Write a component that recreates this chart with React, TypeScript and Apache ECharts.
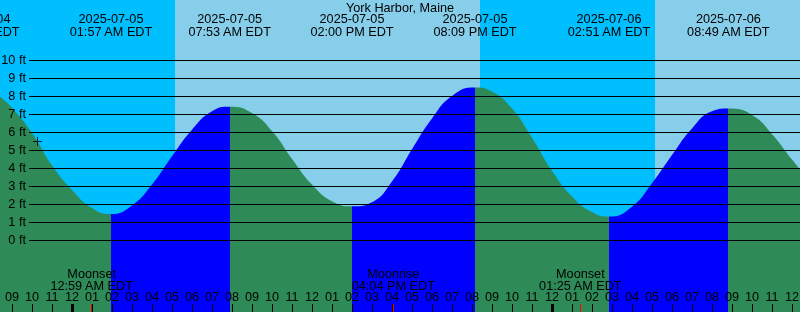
import React, { useEffect, useRef } from 'react';
import * as echarts from 'echarts';

const stationName = 'York Harbor, Maine';

// Time is in hours since 2025-07-05 00:00 EDT
const axisMinHour = -5;
const axisMaxHour = 37;

// Water level (hours, feet)
const curveHours = [
  -3.6, -3, -2, -1, 0, 1, 1.95, 3, 4, 5, 6, 7, 7.883, 9, 10, 11, 12, 13, 14, 15, 16, 17, 18, 19, 20.15,
  21, 22, 23, 24, 25, 26, 26.85, 28, 29, 30, 31, 32, 32.817, 34, 35, 36, 36.4,
];
const curveFeet = [
  7.96, 7.35, 5.95, 4.15, 2.78, 1.78, 1.44, 1.92, 3.08, 4.65, 6.13, 7.15, 7.4, 7.05, 6.05, 4.5, 3.08, 2.15, 1.87, 2.1,
  3.25, 5.04, 6.75, 8.0, 8.47, 8.25, 7.3, 5.68, 3.85, 2.42, 1.55, 1.3, 1.85, 3.15, 4.72, 6.2, 7.15, 7.3, 6.95, 5.88,
  4.47, 3.92,
];

// High / low tide events
const extremeHours = [-4.7, 1.95, 7.883, 14.0, 20.15, 26.85, 32.817];
const extremeKinds = ['high', 'low', 'high', 'low', 'high', 'low', 'high'];
const extremeDates = ['2025-07-04', '2025-07-05', '2025-07-05', '2025-07-05', '2025-07-05', '2025-07-06', '2025-07-06'];
const extremeTimes = ['07:18 PM EDT', '01:57 AM EDT', '07:53 AM EDT', '02:00 PM EDT', '08:09 PM EDT', '02:51 AM EDT', '08:49 AM EDT'];

// Sun events
const sunHours = [5.15, 20.4, 29.15];
const sunKinds = ['rise', 'set', 'rise'];

// Moon events
const moonHours = [0.983, 16.067, 25.417];
const moonNames = ['Moonset', 'Moonrise', 'Moonset'];
const moonTimes = ['12:59 AM EDT', '04:04 PM EDT', '01:25 AM EDT'];

// Midnights
const midnightHours = [0, 24];

// Level marker "+"
const markerHours = [-1.725];
const markerFeet = [5.47];

// Feet grid levels
const feetLevels = [0, 1, 2, 3, 4, 5, 6, 7, 8, 9, 10];
const feetMin = -4;
const feetMax = 13.3333;

const COLORS = {
  night: '#00BFFF',
  day: '#87CEEB',
  rising: '#0000FF',
  falling: '#2E8B57',
  text: '#000000',
  moonTick: '#FF0000',
};

const FONT = 'Liberation Sans, Arial, sans-serif';
const FS = 12.7;

function hourLabel(v: number): string {
  const h = ((Math.round(v) % 24) + 24) % 24;
  const h12 = h % 12 === 0 ? 12 : h % 12;
  return String(h12).padStart(2, '0');
}

function nearestIndex(arr: number[], v: number): number {
  let best = 0;
  for (let i = 1; i < arr.length; i++) if (Math.abs(arr[i] - v) < Math.abs(arr[best] - v)) best = i;
  return best;
}

function buildOption() {
  // Sky bands
  const bandEdges = [axisMinHour, ...sunHours, axisMaxHour];
  const bands: any[] = [];
  for (let i = 0; i < bandEdges.length - 1; i++) {
    const isDay = i === 0 ? sunKinds[0] === 'set' : sunKinds[i - 1] === 'rise';
    bands.push([
      { xAxis: bandEdges[i], itemStyle: { color: isDay ? COLORS.day : COLORS.night, opacity: 1 } },
      { xAxis: bandEdges[i + 1] },
    ]);
  }

  // Rising / falling pieces
  const pieces: any[] = [];
  pieces.push({ lte: extremeHours[0], color: extremeKinds[0] === 'high' ? COLORS.rising : COLORS.falling });
  for (let i = 0; i < extremeHours.length - 1; i++) {
    pieces.push({
      gt: extremeHours[i],
      lte: extremeHours[i + 1],
      color: extremeKinds[i] === 'low' ? COLORS.rising : COLORS.falling,
    });
  }
  pieces.push({
    gt: extremeHours[extremeHours.length - 1],
    color: extremeKinds[extremeKinds.length - 1] === 'low' ? COLORS.rising : COLORS.falling,
  });

  const baseX = {
    type: 'value',
    gridIndex: 0,
    min: axisMinHour,
    max: axisMaxHour,
    z: 10,
    axisLine: { show: false, onZero: false },
    splitLine: { show: false },
  };

  return {
    animation: false,
    textStyle: { fontFamily: FONT, color: COLORS.text },
    title: {
      text: stationName,
      left: 'center',
      top: 1,
      padding: 0,
      textStyle: { fontFamily: FONT, fontSize: FS, fontWeight: 'normal', color: COLORS.text },
    },
    grid: [
      { left: -28, right: -12, top: 0, bottom: 0, containLabel: false, outerBoundsMode: 'none' },
      { left: 29, right: 0, top: 0, bottom: 0, containLabel: false, outerBoundsMode: 'none' },
    ],
    xAxis: [
      {
        ...baseX,
        position: 'bottom',
        interval: 1,
        axisTick: { show: true, inside: true, length: 8, lineStyle: { color: '#000', width: 1 } },
        axisLabel: {
          show: true,
          inside: true,
          margin: 9,
          fontFamily: FONT,
          fontSize: FS,
          color: COLORS.text,
          formatter: (v: number) => hourLabel(v),
        },
      },
      {
        ...baseX,
        position: 'bottom',
        axisTick: { show: true, inside: true, length: 8, customValues: midnightHours, lineStyle: { color: '#000', width: 3 } },
        axisLabel: { show: false },
      },
      {
        ...baseX,
        position: 'bottom',
        axisTick: { show: true, inside: true, length: 8, customValues: moonHours, lineStyle: { color: COLORS.moonTick, width: 1 } },
        axisLabel: {
          show: true,
          inside: true,
          margin: 20.5,
          customValues: moonHours,
          fontFamily: FONT,
          fontSize: FS,
          lineHeight: 11.7,
          color: COLORS.text,
          formatter: (v: number) => {
            const i = nearestIndex(moonHours, v);
            return moonNames[i] + '\n' + moonTimes[i];
          },
        },
      },
      {
        ...baseX,
        position: 'top',
        axisTick: { show: false },
        axisLabel: {
          show: true,
          inside: true,
          margin: 13,
          customValues: extremeHours,
          fontFamily: FONT,
          fontSize: FS,
          lineHeight: 12.5,
          color: COLORS.text,
          formatter: (v: number) => {
            const i = nearestIndex(extremeHours, v);
            return extremeDates[i] + '\n' + extremeTimes[i];
          },
        },
      },
      {
        type: 'value',
        gridIndex: 1,
        min: 0,
        max: 1,
        show: false,
      },
    ],
    yAxis: [
      { type: 'value', gridIndex: 0, min: feetMin, max: feetMax, show: false },
      {
        type: 'value',
        gridIndex: 1,
        min: feetMin,
        max: feetMax,
        interval: 1,
        z: 10,
        axisLine: { show: false },
        axisTick: { show: false, customValues: feetLevels },
        axisLabel: {
          show: true,
          margin: 3,
          customValues: feetLevels,
          fontFamily: FONT,
          fontSize: FS,
          color: COLORS.text,
          formatter: (v: number) => (v >= 0 && v <= 10 ? v + ' ft' : ''),
        },
        splitLine: { show: true, lineStyle: { color: '#000', width: 1 } },
      },
    ],
    visualMap: {
      type: 'piecewise',
      show: false,
      seriesIndex: 1,
      dimension: 0,
      pieces,
    },
    series: [
      {
        type: 'line',
        xAxisIndex: 0,
        yAxisIndex: 0,
        data: [],
        silent: true,
        markArea: { silent: true, data: bands },
      },
      {
        type: 'line',
        xAxisIndex: 0,
        yAxisIndex: 0,
        z: 2,
        smooth: 0.5,
        showSymbol: false,
        silent: true,
        lineStyle: { width: 0 },
        areaStyle: { opacity: 1, origin: 'start' },
        data: curveHours.map((h, i) => [h, curveFeet[i]]),
      },
      {
        type: 'scatter',
        xAxisIndex: 0,
        yAxisIndex: 0,
        z: 12,
        silent: true,
        symbol: 'path://M0,4H9V5H0Z M4,0H5V9H4Z',
        symbolSize: 9,
        itemStyle: { color: '#000' },
        data: markerHours.map((h, i) => [h, markerFeet[i]]),
      },
    ],
  };
}

export default function App() {
  const ref = useRef<HTMLDivElement>(null);
  useEffect(() => {
    const chart = echarts.init(ref.current!, null, { renderer: 'svg' });
    chart.setOption(buildOption() as any);
    return () => chart.dispose();
  }, []);
  return <div ref={ref} style={{ position: 'fixed', left: 0, top: 0, width: 800, height: 312 }} />;
}
